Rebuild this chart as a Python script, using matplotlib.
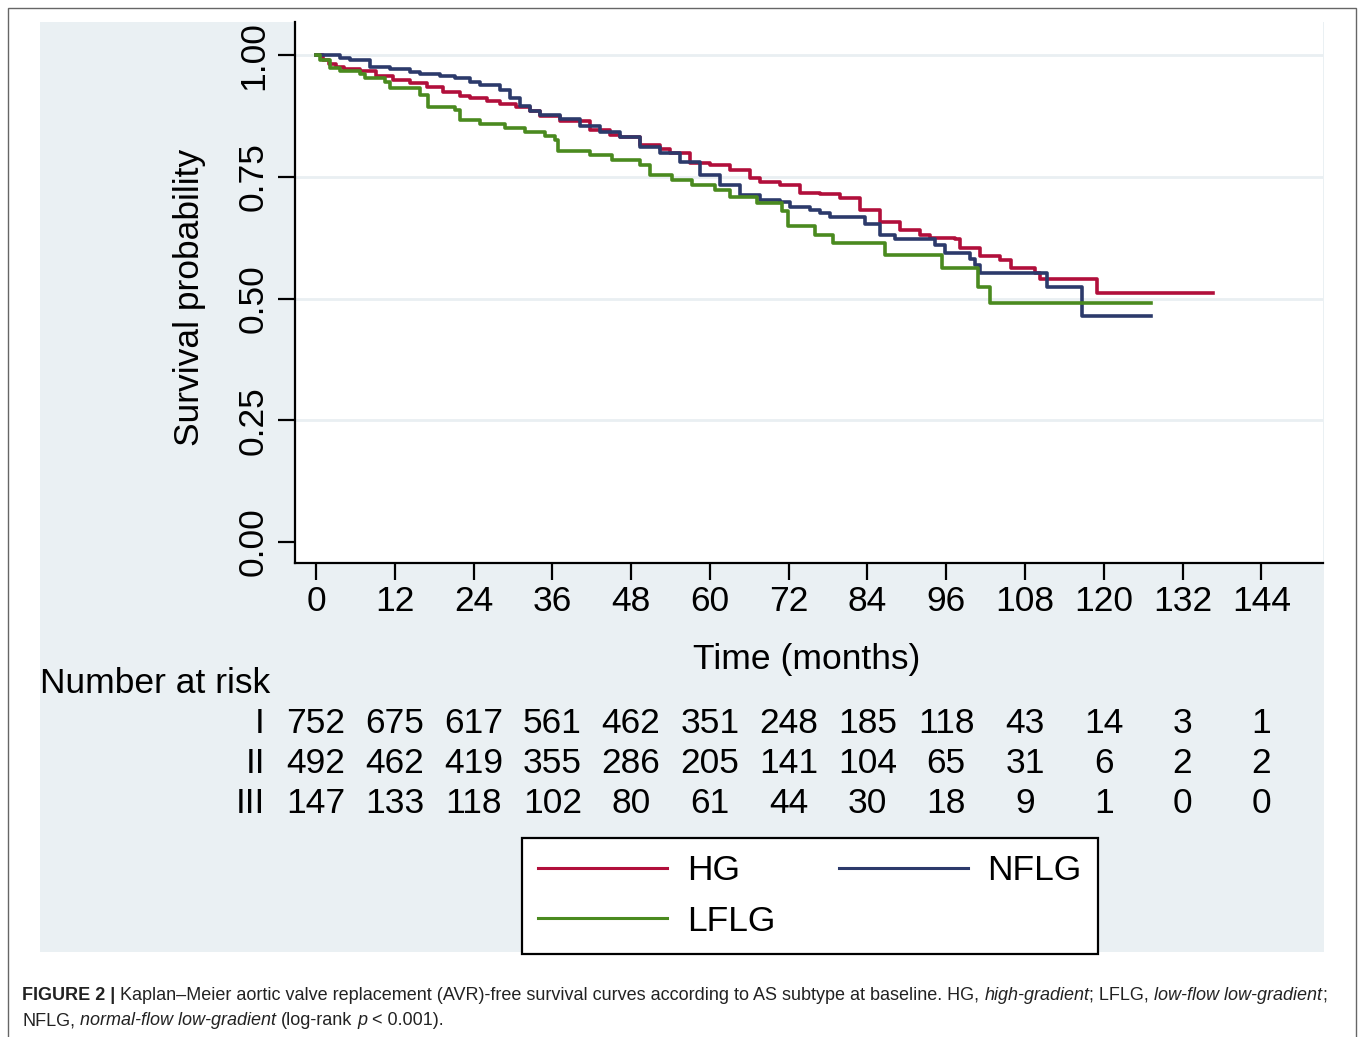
import matplotlib
matplotlib.use("Agg")
import matplotlib.pyplot as plt
from matplotlib.patches import Rectangle
from matplotlib.transforms import blended_transform_factory, IdentityTransform

plt.rcParams['font.family'] = ['Liberation Sans', 'DejaVu Sans']

# ---------------- data ----------------
hg_t = [0, 1.0, 2.0, 3.1, 4.2, 6.7, 9.2, 11.8, 14.3, 16.9, 19.4, 21.9, 23.5, 26.0, 28.0, 30.5,
        32.6, 34.1, 37.2, 41.8, 44.8, 46.3, 49.4, 52.4, 53.9, 57.0, 60.0, 63.1, 66.1, 67.7,
        70.7, 73.8, 76.8, 79.8, 82.9, 85.9, 89.0, 92.0, 93.6, 97.4, 98.1, 101.2, 104.2,
        105.8, 109.6, 110.3, 118.9, 136.7]
hg_s = [1.0, 0.990, 0.982, 0.976, 0.971, 0.967, 0.958, 0.949, 0.942, 0.935, 0.925, 0.916, 0.911,
        0.905, 0.900, 0.893, 0.885, 0.874, 0.864, 0.846, 0.836, 0.832, 0.815, 0.808, 0.798,
        0.779, 0.775, 0.764, 0.747, 0.740, 0.733, 0.716, 0.714, 0.706, 0.682, 0.658, 0.641,
        0.631, 0.624, 0.622, 0.604, 0.587, 0.580, 0.562, 0.553, 0.540, 0.511, 0.511]

nflg_t = [0, 3.7, 5.2, 8.2, 11.3, 14.3, 15.8, 18.9, 21.2, 23.5, 25.0, 28.0, 29.6, 31.1, 32.6,
          34.1, 37.2, 40.2, 43.3, 46.3, 49.4, 52.4, 55.5, 58.5, 61.6, 64.6, 67.7, 70.7, 72.2,
          75.3, 76.8, 78.3, 83.7, 85.9, 88.2, 94.3, 95.8, 99.7, 100.4, 101.2, 111.4, 116.7, 127.2]
nflg_s = [1.0, 0.995, 0.990, 0.976, 0.971, 0.966, 0.961, 0.958, 0.952, 0.945, 0.939, 0.929,
          0.912, 0.895, 0.885, 0.878, 0.869, 0.854, 0.842, 0.832, 0.812, 0.798, 0.781, 0.754,
          0.733, 0.713, 0.702, 0.699, 0.689, 0.682, 0.675, 0.667, 0.654, 0.630, 0.622, 0.610,
          0.594, 0.581, 0.570, 0.552, 0.523, 0.464, 0.464]

lflg_t = [0, 0.6, 2.1, 3.7, 6.7, 7.5, 10.5, 11.3, 15.8, 17.1, 21.2, 21.9, 25.0, 28.8, 31.8,
          34.9, 36.4, 36.9, 41.8, 45.1, 49.4, 50.9, 54.2, 57.3, 60.8, 63.1, 67.2, 71.0, 71.9,
          76.0, 78.8, 86.7, 95.4, 100.9, 102.7, 127.2]
lflg_s = [1.0, 0.990, 0.973, 0.967, 0.961, 0.952, 0.945, 0.932, 0.918, 0.894, 0.887, 0.867,
          0.858, 0.851, 0.843, 0.834, 0.825, 0.803, 0.795, 0.784, 0.774, 0.754, 0.743, 0.733,
          0.723, 0.709, 0.696, 0.680, 0.649, 0.631, 0.614, 0.589, 0.562, 0.524, 0.490, 0.490]

x_ticks = list(range(0, 145, 12))
y_ticks = [0.0, 0.25, 0.5, 0.75, 1.0]
y_tick_labels = ["0.00", "0.25", "0.50", "0.75", "1.00"]

risk_rows = ["I", "II", "III"]
risk_I = [752, 675, 617, 561, 462, 351, 248, 185, 118, 43, 14, 3, 1]
risk_II = [492, 462, 419, 355, 286, 205, 141, 104, 65, 31, 6, 2, 2]
risk_III = [147, 133, 118, 102, 80, 61, 44, 30, 18, 9, 1, 0, 0]

series_labels = ["HG", "NFLG", "LFLG"]
series_colors = ["#B10F3B", "#2C3A6B", "#4A8A1F"]

# ---------------- figure ----------------
W, H = 1358, 1037
fig = plt.figure(figsize=(W / 100, H / 100), dpi=100)
fig.patch.set_facecolor("white")

def fx(px):
    return px / W

def fy(py):
    return 1 - py / H

# outer border
fig.patches.append(Rectangle((fx(8), fy(1100)), fx(1356) - fx(8), fy(8) - fy(1100),
                             transform=fig.transFigure, fill=False, edgecolor="#666666",
                             linewidth=1.0, zorder=-10))
# light panel
fig.patches.append(Rectangle((fx(40), fy(952)), fx(1324) - fx(40), fy(22) - fy(952),
                             transform=fig.transFigure, facecolor="#EAF0F3", edgecolor="none",
                             zorder=-10))

ax = fig.add_axes([fx(295), fy(563), fx(1323) - fx(295), fy(22) - fy(563)])
ax.set_zorder(1)
ax.set_facecolor("white")

FS = 25.5
lw = 2.6
lines = {}
for lab, tt, ss, col in [("HG", hg_t, hg_s, series_colors[0]),
                         ("NFLG", nflg_t, nflg_s, series_colors[1]),
                         ("LFLG", lflg_t, lflg_s, series_colors[2])]:
    ln, = ax.step(tt, ss, where="post", color=col, lw=lw, label=lab, zorder=3)
    lines[lab] = ln

ax.set_xlim(-3.2, 153.4)
ax.set_ylim(-0.043, 1.068)
ax.set_xticks(x_ticks)
ax.set_yticks(y_ticks)
ax.set_yticklabels(y_tick_labels)
for s in ["top", "right"]:
    ax.spines[s].set_visible(False)
for s in ["left", "bottom"]:
    ax.spines[s].set_linewidth(1.6)
    ax.spines[s].set_color("black")
ax.tick_params(axis="both", length=12, width=1.6, color="black", labelsize=FS, direction="out")
ax.tick_params(axis="x", pad=4)
ax.tick_params(axis="y", pad=6)
plt.setp(ax.get_yticklabels(), rotation=90, va="center")
ax.yaxis.grid(True, color="#E9EFF2", lw=2.0, zorder=0)
ax.get_ygridlines()[0].set_visible(False)
ax.set_axisbelow(True)

# axis titles
fig.text(fx(189), fy(297), "Survival probability", rotation=90, ha="center", va="center",
         fontsize=FS)
fig.text(fx(807), fy(659), "Time (months)", ha="center", va="center", fontsize=FS)

# number at risk
fig.text(fx(40), fy(693), "Number at risk", ha="left", va="baseline", fontsize=FS)
btr = blended_transform_factory(ax.transData, fig.transFigure)
for row_lab, vals, base in [(risk_rows[0], risk_I, 733), (risk_rows[1], risk_II, 773),
                            (risk_rows[2], risk_III, 813)]:
    fig.text(fx(265), fy(base), row_lab, ha="right", va="baseline", fontsize=FS)
    for xt, v in zip(x_ticks, vals):
        ax.text(xt, fy(base), str(v), transform=btr, ha="center", va="baseline",
                fontsize=FS, clip_on=False)

# legend
handles = [lines["HG"], lines["LFLG"], lines["NFLG"]]
labels = ["HG", "LFLG", "NFLG"]
leg = ax.legend(handles, labels, ncol=2, loc="upper left",
                bbox_to_anchor=(fx(522), fy(838)), bbox_transform=fig.transFigure,
                fontsize=FS, handlelength=3.65, handletextpad=0.55, columnspacing=1.8,
                labelspacing=0.5, borderpad=0.45, borderaxespad=0, fancybox=False,
                framealpha=1, facecolor="white", edgecolor="black")
leg.get_frame().set_linewidth(1.6)
for l in leg.get_lines():
    l.set_linewidth(2.2)

# caption with mixed styles
renderer = fig.canvas.get_renderer()

def seg_width(s, size, weight, style):
    t = fig.text(0, 0, s, fontsize=size, fontweight=weight, fontstyle=style,
                 transform=IdentityTransform())
    w = t.get_window_extent(renderer).width
    t.remove()
    return w

def space_w(size, weight, style):
    return seg_width("x x", size, weight, style) - seg_width("xx", size, weight, style)

def line_width(segs, size):
    tot = 0
    for s, wgt, sty in segs:
        core = s.strip(" ")
        lead = len(s) - len(s.lstrip(" "))
        trail = len(s) - len(s.rstrip(" "))
        sw = space_w(size, wgt, sty)
        tot += lead * sw + (seg_width(core, size, wgt, sty) if core else 0) + trail * sw
    return tot

def draw_line(segs, x0, y0, size, color="#222222"):
    cur = x0
    for s, wgt, sty in segs:
        core = s.strip(" ")
        lead = len(s) - len(s.lstrip(" "))
        trail = len(s) - len(s.rstrip(" "))
        sw = space_w(size, wgt, sty)
        cur += lead * sw
        if core:
            fig.text(cur, y0, core, fontsize=size, fontweight=wgt, fontstyle=sty,
                     transform=IdentityTransform(), ha="left", va="baseline", color=color)
            cur += seg_width(core, size, wgt, sty)
        cur += trail * sw

cap1 = [("FIGURE 2 |", "bold", "normal"),
        (" Kaplan\u2013Meier aortic valve replacement (AVR)-free survival curves according to AS subtype at baseline. HG, ", "normal", "normal"),
        ("high-gradient", "normal", "italic"),
        ("; LFLG, ", "normal", "normal"),
        ("low-flow low-gradient", "normal", "italic"),
        (";", "normal", "normal")]
cap2 = [("NFLG, ", "normal", "normal"),
        ("normal-flow low-gradient", "normal", "italic"),
        (" (log-rank ", "normal", "normal"),
        ("p", "normal", "italic"),
        (" < 0.001).", "normal", "normal")]

base_size = 12.0
w1 = line_width(cap1, base_size)
cap_size = base_size * (1326 - 22) / w1
draw_line(cap1, 22, H - 1000, cap_size)
draw_line(cap2, 22, H - 1025, cap_size)

fig.savefig("out.png", dpi=100, facecolor="white")
